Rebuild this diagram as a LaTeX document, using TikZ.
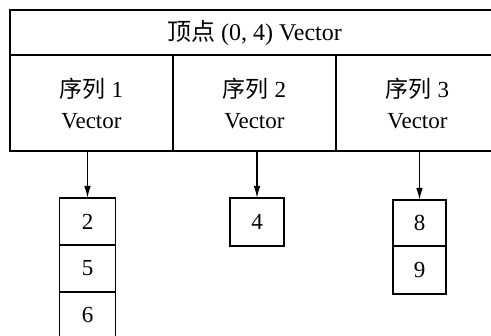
\documentclass[tikz,border=0pt]{standalone}
\usepackage{fontspec}
\setmainfont{Liberation Serif}
\newfontfamily\cjk{Noto Sans CJK SC}
\usetikzlibrary{arrows.meta,positioning}

\tikzset{
  box/.style={draw, outer sep=0pt, inner sep=0pt, align=center},
  elem/.style={box, minimum width=56pt, minimum height=47pt},
  ptr/.style={-{Latex[length=12pt,width=6.5pt]}}
}

\begin{document}
\begin{tikzpicture}[x=1pt, y=-1pt, line width=1.3pt, font=\fontsize{23}{31}\selectfont]
  \useasboundingbox (0,0) rectangle (491,336);
  % header
  \node[box, anchor=north west, minimum width=489pt, minimum height=45pt] (top) at (10,10)
    {\fontsize{24}{28}\selectfont{\cjk 顶点} (0, 4) Vector};
  \node[box, anchor=north west, minimum width=163pt, minimum height=96pt] (c1) at (10,55) {{\cjk 序列} 1\\Vector};
  \node[box, anchor=north west, minimum width=163pt, minimum height=96pt] (c2) at (173,55) {{\cjk 序列} 2\\Vector};
  \node[box, anchor=north west, minimum width=163pt, minimum height=96pt] (c3) at (336,55) {{\cjk 序列} 3\\Vector};
  % elements
  \node[elem, anchor=north] (a1) at (87.5,198) {2};
  \node[elem, below=0pt of a1] (a2) {5};
  \node[elem, below=0pt of a2] (a3) {6};
  \node[elem, anchor=north, minimum width=54pt, minimum height=48pt] (b1) at (257,198) {4};
  \node[elem, anchor=north, minimum width=53pt, minimum height=46pt] (d1) at (419.5,200) {8};
  \node[elem, below=0pt of d1, minimum width=53pt, minimum height=48pt] (d2) {9};
  % pointers
  \draw[ptr] (c1.south -| a1) -- (a1.north);
  \draw[ptr] (c2.south -| b1) -- (b1.north);
  \draw[ptr] (c3.south -| d1) -- (d1.north);
\end{tikzpicture}
\end{document}
